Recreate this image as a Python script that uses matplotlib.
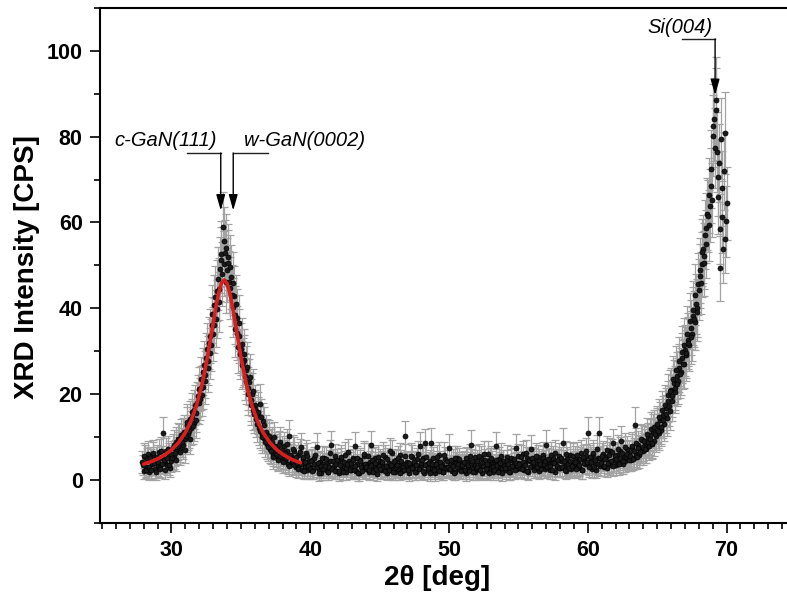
import numpy as np
import matplotlib
matplotlib.use("Agg")
import matplotlib.pyplot as plt

# ---- measured intensity (CPS); scan A starts at 27.90 deg, scan B at 27.95 deg, both 0.1 deg steps ----
scan_step = 0.1
scan_a_start = 27.9
intensity_a = [
    # 27.9 - 30.0
    4.2, 2.1, 5.3, 3.0, 6.1, 1.8, 4.5, 3.6, 5.8, 2.5, 4.9, 3.2, 6.4, 2.9, 5.1, 10.8, 4.0, 6.6, 3.4, 5.7, 2.7, 6.0,
    # 30.1 - 39.9
    7.5, 5.4, 8.9, 6.8, 9.6, 7.3, 10.4, 8.1, 11.2, 9.5,
    12.8, 10.6, 14.1, 12.0, 15.7, 13.3, 17.4, 15.5, 19.6, 17.8,
    21.5, 19.8, 25.2, 23.0, 28.4, 26.1, 31.9, 29.5, 36.2, 34.0,
    40.8, 37.6, 44.1, 41.5, 49.2, 52.6, 59.0, 50.4, 54.1,
    48.9, 52.0, 44.7, 47.3, 40.2, 42.9, 35.1, 37.8, 31.0, 33.6,
    30.5, 26.8, 28.0, 24.1, 25.6, 21.3, 22.8, 18.6, 19.9, 16.2,
    17.5, 14.2, 15.0, 12.1, 17.6, 10.6, 13.8, 9.8, 11.2, 8.3,
    9.6, 7.2, 8.4, 6.1, 9.9, 5.8, 7.5, 4.9, 8.8, 6.3,
    5.2, 7.9, 4.4, 6.6, 3.7, 10.2, 5.5, 3.9, 6.8, 4.7,
    2.9, 5.9, 3.5, 7.6, 2.4, 4.8, 3.1, 6.2, 2.2, 4.4,
    # 40.0 - 69.9
    3.1, 4.6, 2.2, 5.0, 3.4, 7.6, 2.6, 4.1, 1.7, 3.8,
    5.2, 2.4, 3.6, 1.9, 4.3, 8.0, 2.8, 3.3, 5.5, 2.0,
    3.9, 1.5, 4.8, 2.7, 3.2, 5.9, 1.8, 3.5, 4.4, 2.3,
    3.0, 5.1, 7.8, 2.1, 3.7, 1.6, 4.7, 2.9, 3.4, 5.6,
    2.5, 3.8, 1.9, 4.2, 8.1, 2.7, 3.3, 5.0, 1.4, 3.6,
    4.5, 2.2, 3.9, 2.8, 5.4, 1.7, 3.1, 4.0, 2.4, 6.2,
    3.3, 1.8, 4.6, 2.6, 3.5, 5.7, 2.0, 3.8, 10.1, 2.9,
    4.1, 1.6, 3.4, 5.3, 2.5, 3.9, 1.9, 4.8, 2.7, 7.9,
    3.2, 5.0, 1.7, 8.5, 3.6, 2.3, 4.4, 8.6, 2.8, 3.5,
    1.5, 4.2, 3.0, 5.8, 2.4, 3.7, 1.9, 4.9, 3.1, 2.6,
    7.5, 3.4, 2.0, 4.5, 1.8, 3.9, 5.2, 2.5, 3.3, 4.0,
    2.2, 3.6, 1.6, 4.7, 3.0, 5.5, 8.2, 2.7, 3.8, 1.9,
    4.3, 2.6, 3.5, 5.1, 1.7, 3.2, 4.6, 2.1, 6.0, 3.4,
    2.8, 4.1, 1.8, 3.7, 7.9, 2.4, 4.9, 3.0, 1.6, 4.4,
    3.5, 2.2, 5.3, 3.1, 1.9, 4.6, 2.9, 3.8, 7.4, 2.5,
    4.0, 2.7, 3.6, 6.1, 2.3, 3.9, 5.0, 1.8, 4.4, 7.2,
    3.2, 4.8, 2.5, 3.7, 5.4, 2.0, 4.2, 3.1, 5.9, 2.6,
    8.2, 3.5, 4.6, 2.3, 3.9, 5.1, 1.9, 4.3, 3.0, 5.6,
    2.8, 4.4, 8.6, 3.3, 2.1, 4.9, 3.6, 5.8, 2.5, 4.0,
    3.4, 5.2, 2.7, 4.5, 3.1, 6.3, 2.2, 4.8, 3.8, 5.5,
    10.9, 3.6, 4.9, 2.6, 5.7, 3.9, 2.4, 5.0, 10.9, 3.3,
    4.6, 6.0, 3.1, 5.3, 2.8, 4.2, 6.6, 3.5, 8.5, 4.7,
    3.4, 5.9, 4.1, 6.8, 9.0, 3.8, 5.5, 4.4, 7.1, 5.0,
    6.3, 4.6, 7.4, 5.2, 12.8, 6.0, 8.1, 5.7, 7.0, 9.2,
    6.6, 8.4, 7.2, 9.7, 7.8, 10.5, 8.3, 11.4, 9.0, 10.2,
    12.6, 10.8, 13.9, 11.7, 15.2, 13.1, 16.8, 14.5, 18.3, 16.0,
    21.0, 18.4, 22.6, 20.5, 24.3, 23.0, 26.1, 25.2, 28.4, 27.1,
    30.2, 29.0, 32.7, 31.4, 35.5, 34.0, 38.2, 36.9, 41.0, 40.1,
    44.3, 47.5, 50.2, 53.8, 52.1, 58.6, 62.0, 66.3, 63.9, 72.5,
    80.2, 84.1, 88.6, 76.4, 66.0, 49.3, 79.5, 61.3, 72.0, 56.2,
    # 70.0
    64.5,
]

scan_b_start = 27.95
intensity_b = [
    # 27.95 - 29.95
    3.4, 5.6, 2.4, 4.8, 3.1, 5.0, 2.3, 6.3, 3.9, 1.9, 5.4, 4.1, 2.6, 6.8, 3.7, 4.6, 2.2, 5.2, 7.1, 3.5, 4.3,
    # 30.05 - 39.95
    5.1, 8.2, 6.2, 4.7, 7.8, 9.4, 6.4, 8.7, 10.6, 7.0,
    10.1, 13.4, 11.3, 9.6, 14.6, 12.5, 16.3, 14.0, 18.0, 21.2,
    18.9, 23.4, 21.7, 26.8, 24.5, 30.6, 27.8, 33.5, 31.4, 38.6,
    36.0, 42.7, 39.8, 46.9, 44.5, 51.3, 48.0, 55.6, 52.9, 46.2,
    50.6, 46.1, 49.5, 43.0, 45.8, 38.4, 40.9, 34.2, 36.5, 29.3,
    31.6, 27.4, 29.3, 23.0, 26.4, 20.1, 23.9, 17.4, 20.8, 15.3,
    16.4, 13.0, 15.9, 11.4, 14.6, 10.0, 12.8, 8.9, 10.5, 7.6,
    10.3, 6.7, 8.9, 5.4, 7.8, 6.9, 4.6, 8.1, 5.6, 7.0,
    4.1, 6.2, 5.0, 8.4, 3.2, 5.9, 4.5, 7.2, 3.4, 5.3,
    4.0, 2.6, 6.5, 3.8, 5.3, 2.0, 4.1, 5.6, 3.3, 2.5,
    # 40.05 - 69.95
    4.4, 2.0, 3.7, 5.8, 2.9, 4.0, 1.6, 3.2, 5.1, 2.6,
    3.3, 4.9, 1.8, 3.1, 6.2, 2.5, 4.5, 2.1, 3.8, 4.6,
    2.0, 3.4, 5.4, 1.9, 4.1, 2.8, 3.6, 6.4, 2.2, 3.9,
    4.6, 2.4, 3.3, 5.2, 1.5, 4.3, 3.1, 2.0, 6.1, 3.6,
    3.1, 5.6, 2.3, 3.5, 4.7, 1.8, 4.0, 2.6, 5.3, 3.2,
    2.6, 4.1, 5.9, 2.0, 3.3, 4.8, 2.3, 6.6, 3.5, 1.9,
    4.3, 2.9, 3.4, 5.1, 1.7, 4.4, 3.0, 2.4, 5.5, 3.7,
    2.2, 3.9, 5.6, 2.8, 4.2, 1.9, 3.4, 6.1, 2.5, 4.0,
    4.7, 2.1, 3.5, 5.4, 2.7, 4.0, 1.6, 3.8, 5.0, 2.3,
    3.6, 5.3, 2.0, 4.1, 3.2, 1.8, 5.8, 2.7, 4.4, 3.0,
    2.5, 4.6, 3.2, 1.7, 5.1, 2.9, 3.6, 4.8, 2.1, 3.5,
    4.2, 2.3, 5.0, 3.4, 2.0, 3.9, 4.5, 1.8, 5.4, 2.8,
    3.0, 5.5, 2.2, 4.0, 3.3, 6.0, 2.6, 3.8, 1.7, 4.7,
    5.2, 3.1, 2.4, 4.6, 3.5, 1.9, 3.9, 5.6, 2.7, 3.3,
    2.7, 4.4, 3.6, 1.8, 5.1, 3.2, 4.8, 2.2, 3.9, 5.5,
    3.6, 5.3, 2.5, 4.2, 3.4, 6.3, 2.1, 4.7, 3.1, 5.0,
    4.1, 2.4, 5.6, 3.0, 4.5, 3.8, 2.6, 5.2, 3.6, 4.3,
    2.9, 4.8, 3.3, 5.9, 2.2, 4.0, 6.2, 3.2, 4.6, 2.7,
    5.0, 3.1, 4.3, 2.4, 6.1, 3.7, 2.8, 4.5, 3.3, 5.6,
    4.2, 2.6, 5.8, 3.5, 4.9, 2.3, 5.3, 3.9, 6.7, 4.1,
    3.0, 5.4, 4.2, 6.3, 2.9, 4.6, 7.2, 3.6, 5.1, 4.0,
    5.6, 3.3, 4.8, 7.0, 3.9, 5.8, 4.5, 6.4, 3.2, 5.5,
    4.8, 7.2, 3.6, 5.1, 6.2, 4.4, 7.7, 5.3, 6.0, 4.6,
    5.5, 7.9, 4.9, 6.7, 8.6, 5.4, 7.3, 6.4, 9.5, 7.6,
    9.0, 7.1, 10.6, 8.8, 9.4, 11.8, 8.6, 12.3, 10.7, 13.0,
    11.4, 14.6, 12.4, 16.2, 14.0, 17.5, 15.3, 19.8, 17.2, 20.6,
    19.6, 23.5, 21.4, 25.7, 22.4, 27.6, 24.6, 29.8, 26.9, 31.5,
    29.6, 34.1, 31.9, 37.0, 33.2, 39.6, 37.5, 43.2, 39.2, 45.6,
    48.8, 45.9, 53.0, 50.5, 57.1, 55.0, 61.5, 59.3, 68.6, 65.2,
    82.6, 77.3, 86.2, 70.5, 73.8, 58.4, 68.0, 53.8, 80.9, 60.3,
]

# ---- Lorentzian fit of the GaN peak ----
fit_x = [28.0, 28.5, 29.0, 29.5, 30.0, 30.5, 31.0, 31.4, 31.8, 32.2, 32.6, 32.9,
         33.2, 33.4, 33.6, 33.8, 34.0, 34.2, 34.4, 34.7, 35.0, 35.4, 35.8, 36.2,
         36.6, 37.1, 37.6, 38.1, 38.6, 39.1, 39.3]
fit_y = [3.67, 4.2, 4.87, 5.77, 6.97, 8.64, 11.0, 13.67, 17.29, 22.22, 28.73, 34.48,
         40.28, 43.56, 45.8, 46.6, 45.8, 43.56, 40.28, 34.48, 28.73, 22.22, 17.29, 13.67,
         11.0, 8.64, 6.97, 5.77, 4.87, 4.2, 3.97]

# ---- peak labels ----
peak_labels = ["c-GaN(111)", "w-GaN(0002)", "Si(004)"]

x_ticks = [30, 40, 50, 60, 70]
y_ticks = [0, 20, 40, 60, 80, 100]

x_a = np.round(scan_a_start + scan_step * np.arange(len(intensity_a)), 2)
x_b = np.round(scan_b_start + scan_step * np.arange(len(intensity_b)), 2)
two_theta = np.concatenate([x_a, x_b])
y = np.array(intensity_a + intensity_b)
yerr = np.sqrt(y) + 0.5   # counting-statistics error bars

plt.rcParams['font.family'] = ['Liberation Sans', 'DejaVu Sans']

fig = plt.figure(figsize=(7.87, 5.94), dpi=100)
ax = fig.add_axes([100 / 787, 71.3 / 594, 696 / 787, 514.7 / 594])

ax.errorbar(two_theta, y, yerr=yerr, fmt='none', ecolor='#a3a3a3',
            elinewidth=0.9, capsize=2.8, capthick=0.9, zorder=2)
ax.plot(two_theta, y, linestyle='none', marker='o', markersize=3.6,
        markerfacecolor='#1a1a1a', markeredgecolor='black', markeredgewidth=0.5, zorder=3)
ax.plot(fit_x, fit_y, color='#d81e1e', lw=2.6, zorder=4, solid_capstyle='round')

ax.set_xlim(24.85, 75)
ax.set_ylim(-10, 110)
ax.set_xticks(x_ticks)
ax.set_yticks(y_ticks)
ax.set_xticks(np.arange(25, 75, 1), minor=True)
ax.set_yticks(np.arange(-10, 111, 10), minor=True)

ax.spines['right'].set_visible(False)
for side in ['left', 'bottom', 'top']:
    ax.spines[side].set_linewidth(1.5)

ax.tick_params(axis='both', which='major', direction='out', length=7.5, width=1.2,
               labelsize=15.5, pad=5)
ax.tick_params(axis='both', which='minor', direction='out', length=4, width=1.2)
ax.tick_params(top=False, right=False, which='both')
for lab in ax.get_xticklabels() + ax.get_yticklabels():
    lab.set_fontweight('bold')

ax.set_xlabel('2θ [deg]', fontsize=20, fontweight='bold')
ax.set_ylabel('XRD Intensity [CPS]', fontsize=20, fontweight='bold')
ax.xaxis.set_label_coords((437 - 100) / 696, -(565 - 522.7) / 514.7)
ax.yaxis.set_label_coords(-(100 - 40) / 696, 0.497)

# annotations
ann_font = dict(fontsize=14.5, style='italic', ha='center', va='center')
ax.text(29.57, 79.0, peak_labels[0], **ann_font)
ax.text(39.59, 79.0, peak_labels[1], **ann_font)
ax.text(66.65, 105.4, peak_labels[2], **ann_font)

arrow_kw = dict(arrowstyle='-|>,head_length=0.95,head_width=0.27', color='black',
                lw=1.0, shrinkA=0, shrinkB=0, mutation_scale=10)
line_kw = dict(color='#222222', lw=1.0, zorder=5)

# c-GaN(111)
ax.plot([31.1, 33.55], [76.2, 76.2], **line_kw)
ax.annotate('', xy=(33.55, 62.8), xytext=(33.55, 76.2), arrowprops=arrow_kw, zorder=5)
# w-GaN(0002)
ax.plot([34.45, 36.93], [76.2, 76.2], **line_kw)
ax.annotate('', xy=(34.45, 62.8), xytext=(34.45, 76.2), arrowprops=arrow_kw, zorder=5)
# Si(004)
ax.plot([66.77, 69.17], [102.8, 102.8], **line_kw)
ax.annotate('', xy=(69.17, 89.7), xytext=(69.17, 102.8), arrowprops=arrow_kw, zorder=5)

fig.savefig('out.png', dpi=100)
